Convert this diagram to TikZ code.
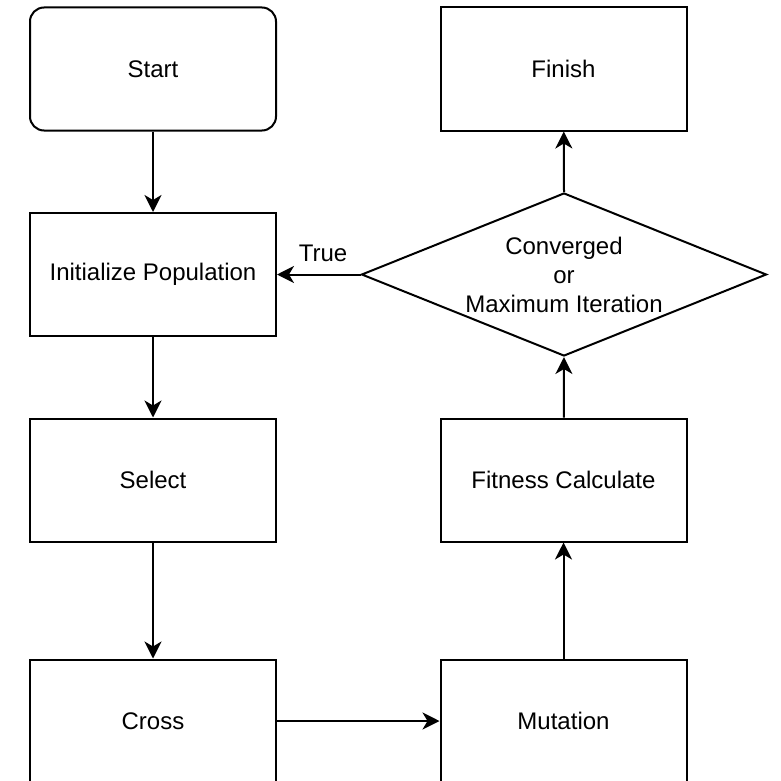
\documentclass[tikz,border=0pt]{standalone}
\usepackage{fontspec}
\setmainfont{Liberation Sans}
\usetikzlibrary{shapes.geometric,arrows.meta}

\tikzset{
  block/.style={draw, line width=2pt, minimum width=246pt, minimum height=123pt,
    inner sep=0pt, font=\fontsize{24}{29}\selectfont, align=center},
  startbox/.style={block, rounded corners=14pt},
  decision/.style={draw, shape=diamond, line width=2pt, aspect=2.48,
    minimum width=405pt, minimum height=163pt, inner sep=0pt,
    font=\fontsize{24}{29}\selectfont, align=center},
  flow/.style={line width=2pt, -{Stealth[length=17pt, width=17pt, inset=5pt]}},
  lbl/.style={font=\fontsize{24}{29}\selectfont, inner sep=0pt}
}

\begin{document}
\begin{tikzpicture}[x=1pt, y=-1pt]
  \useasboundingbox (0,0) rectangle (780,781);

  % left column
  \node[startbox] (start)  at (153,69)    {Start};
  \node[block]    (init)   at (153,274.5) {Initialize Population};
  \node[block]    (select) at (153,480)   {Select};
  \node[block]    (cross)  at (153,721)   {Cross};

  % right column
  \node[block]    (finish)   at (563.5,69)    {Finish};
  \node[decision] (cond)     at (564,274.5)   {Converged\\or\\Maximum Iteration};
  \node[block]    (fitness)  at (563.5,480)   {Fitness Calculate};
  \node[block]    (mutation) at (563.5,721)   {Mutation};

  % connectors
  \draw[flow] (start) -- (init);
  \draw[flow] (init) -- (select);
  \draw[flow] (select) -- (cross);
  \draw[flow] (cross) -- (mutation);
  \draw[flow] (mutation) -- (fitness);
  \draw[flow] (fitness) -- (cond.south);
  \draw[flow] (cond.north) -- (finish);
  \draw[flow] (cond.west) -- (init.east);
  \node[lbl] (truelbl) at (323,253) {True};
\end{tikzpicture}
\end{document}
